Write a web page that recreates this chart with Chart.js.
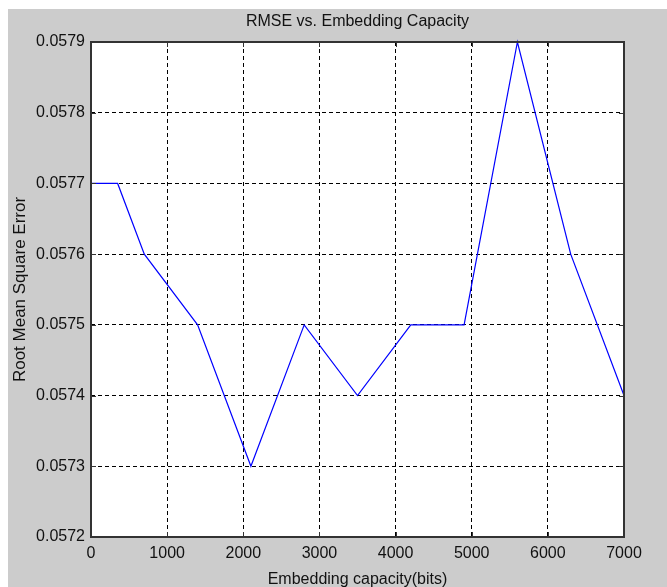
<!DOCTYPE html>
<html>
<head>
<meta charset="utf-8">
<title>RMSE vs. Embedding Capacity</title>
<script src="https://cdn.jsdelivr.net/npm/chart.js@4.4.1/dist/chart.umd.min.js"></script>
<style>
  html, body { margin: 0; padding: 0; background: #ffffff; }
  #wrap { position: relative; width: 667px; height: 587px; }
</style>
</head>
<body>
<div id="wrap"><canvas id="rmse-chart"></canvas></div>
<script>
  // embedding capacity (bits) vs RMSE
  const capacity = [0, 350, 700, 1400, 2100, 2800, 3500, 4200, 4900, 5600, 6300, 7000];
  const rmse = [0.0577, 0.0577, 0.0576, 0.0575, 0.0573, 0.0575, 0.0574, 0.0575, 0.0575, 0.0579, 0.0576, 0.0574];

  const xTicks = [0, 1000, 2000, 3000, 4000, 5000, 6000, 7000];
  const yTicks = [0.0572, 0.0573, 0.0574, 0.0575, 0.0576, 0.0577, 0.0578, 0.0579];

  const fontFamily = "'Liberation Sans', Arial, sans-serif";
  const textColor = '#111111';

  // gray figure, white axes box
  const figureBackground = {
    id: 'figureBackground',
    beforeDraw: function (chart) {
      const ctx = chart.ctx;
      const a = chart.chartArea;
      ctx.save();
      ctx.fillStyle = '#ffffff';
      ctx.fillRect(0, 0, chart.width, chart.height);
      ctx.fillStyle = '#cccccc';
      ctx.fillRect(8, 9, chart.width - 8, chart.height - 9);
      ctx.fillStyle = '#ffffff';
      ctx.fillRect(a.left, a.top, a.right - a.left, a.bottom - a.top);
      ctx.restore();
    },
  };

  // matlab style box with ticks pointing inward on all four sides
  const axesBox = {
    id: 'axesBox',
    afterDraw: function (chart) {
      const ctx = chart.ctx;
      const a = chart.chartArea;
      const xs = chart.scales.x;
      const ys = chart.scales.y;
      const len = 5;
      ctx.save();
      ctx.strokeStyle = '#333333';
      ctx.lineWidth = 1;
      ctx.beginPath();
      xTicks.forEach(function (v) {
        const px = Math.round(xs.getPixelForValue(v)) + 0.5;
        ctx.moveTo(px, a.bottom);
        ctx.lineTo(px, a.bottom - len);
        ctx.moveTo(px, a.top);
        ctx.lineTo(px, a.top + len);
      });
      yTicks.forEach(function (v) {
        const py = Math.round(ys.getPixelForValue(v)) + 0.5;
        ctx.moveTo(a.left, py);
        ctx.lineTo(a.left + len, py);
        ctx.moveTo(a.right, py);
        ctx.lineTo(a.right - len, py);
      });
      ctx.stroke();
      ctx.lineWidth = 2;
      ctx.strokeRect(a.left, a.top, a.right - a.left, a.bottom - a.top);
      ctx.restore();
    },
  };

  const ctx = document.getElementById('rmse-chart').getContext('2d');
  new Chart(ctx, {
    type: 'line',
    data: {
      datasets: [
        {
          label: 'RMSE',
          data: capacity.map(function (c, i) { return { x: c, y: rmse[i] }; }),
          borderColor: '#0000ff',
          borderWidth: 1.2,
          pointRadius: 0,
          tension: 0,
          fill: false,
          clip: false,
        },
      ],
    },
    options: {
      responsive: true,
      maintainAspectRatio: false,
      animation: false,
      layout: { padding: { left: 0, top: 0, right: 43, bottom: 0 } },
      plugins: {
        legend: { display: false },
        tooltip: { enabled: false },
        title: {
          display: true,
          text: 'RMSE vs. Embedding Capacity',
          fullSize: false,
          color: textColor,
          font: { family: fontFamily, size: 16, weight: 'normal', lineHeight: 1.2 },
          padding: { top: 12, bottom: 10.8 },
        },
      },
      scales: {
        x: {
          type: 'linear',
          min: 0,
          max: 7000,
          afterBuildTicks: function (scale) {
            scale.ticks = xTicks.map(function (v) { return { value: v }; });
          },
          afterFit: function (scale) { scale.height = 50; },
          ticks: {
            color: textColor,
            font: { family: fontFamily, size: 16 },
            padding: 7,
            maxRotation: 0,
            autoSkip: false,
            callback: function (v) { return String(v); },
          },
          grid: { color: '#000000', lineWidth: 1, drawTicks: false },
          border: { display: false, dash: [4, 3] },
          title: {
            display: true,
            text: 'Embedding capacity(bits)',
            color: textColor,
            font: { family: fontFamily, size: 16, lineHeight: 1 },
            padding: { top: 0, bottom: -1 },
          },
        },
        y: {
          type: 'linear',
          min: 0.0572,
          max: 0.0579,
          afterBuildTicks: function (scale) {
            scale.ticks = yTicks.map(function (v) { return { value: v }; });
          },
          afterFit: function (scale) { scale.width = 91; },
          ticks: {
            color: textColor,
            font: { family: fontFamily, size: 16 },
            padding: 6,
            autoSkip: false,
            callback: function (v) { return Number(v).toFixed(4); },
          },
          grid: { color: '#000000', lineWidth: 1, drawTicks: false },
          border: { display: false, dash: [4, 3] },
          title: {
            display: true,
            text: 'Root Mean Square Error',
            color: textColor,
            font: { family: fontFamily, size: 17, lineHeight: 1.2 },
            padding: { top: 10, bottom: 0 },
          },
        },
      },
    },
    plugins: [figureBackground, axesBox],
  });
</script>
</body>
</html>
